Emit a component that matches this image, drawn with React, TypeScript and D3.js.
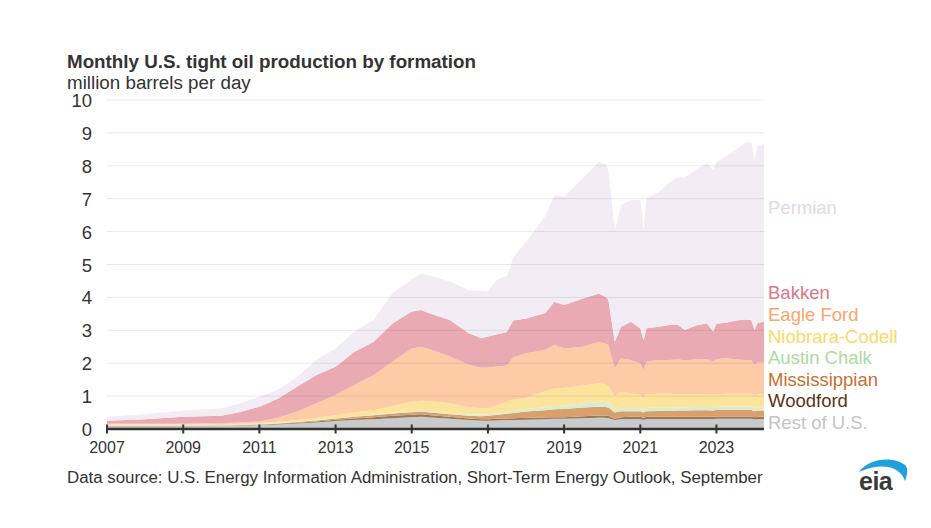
import * as d3 from "d3";

const months = [
  "2007-01", "2008-01", "2009-01", "2010-01", "2010-07", "2011-01", "2011-07", "2012-01",
  "2012-07", "2013-01", "2013-07", "2014-01", "2014-07", "2015-01", "2015-04", "2015-07",
  "2016-01", "2016-07", "2016-11", "2017-01", "2017-04", "2017-07", "2017-09", "2018-01",
  "2018-07", "2018-10", "2019-01", "2019-07", "2019-12", "2020-02", "2020-03", "2020-05",
  "2020-07", "2020-10", "2021-01", "2021-02", "2021-03", "2021-07", "2021-10", "2022-01",
  "2022-03", "2022-07", "2022-10", "2022-12", "2023-01", "2023-04", "2023-07", "2023-10",
  "2023-12", "2024-01", "2024-02", "2024-04",
];

// million barrels per day, bottom layer first
const restOfUS = [
  0.08, 0.08, 0.08, 0.09, 0.10, 0.12, 0.14, 0.17, 0.20, 0.24, 0.27, 0.30, 0.33, 0.36, 0.37, 0.35,
  0.31, 0.27, 0.25, 0.25, 0.26, 0.27, 0.27, 0.28, 0.30, 0.31, 0.31, 0.33, 0.34, 0.34, 0.33, 0.27,
  0.30, 0.30, 0.30, 0.28, 0.30, 0.30, 0.30, 0.30, 0.30, 0.30, 0.30, 0.30, 0.31, 0.31, 0.31, 0.31,
  0.31, 0.29, 0.30, 0.30,
];
const woodford = [
  0.01, 0.01, 0.01, 0.01, 0.01, 0.01, 0.02, 0.02, 0.03, 0.04, 0.05, 0.06, 0.07, 0.07, 0.08, 0.07,
  0.06, 0.05, 0.05, 0.05, 0.05, 0.05, 0.06, 0.06, 0.05, 0.05, 0.05, 0.06, 0.07, 0.07, 0.07, 0.04,
  0.06, 0.07, 0.07, 0.06, 0.07, 0.07, 0.07, 0.07, 0.07, 0.07, 0.07, 0.07, 0.07, 0.07, 0.07, 0.07,
  0.07, 0.07, 0.07, 0.07,
];
const mississippian = [
  0.01, 0.01, 0.01, 0.01, 0.01, 0.01, 0.01, 0.02, 0.03, 0.04, 0.05, 0.06, 0.07, 0.08, 0.08, 0.08,
  0.08, 0.08, 0.09, 0.10, 0.12, 0.14, 0.16, 0.19, 0.22, 0.24, 0.25, 0.26, 0.27, 0.26, 0.25, 0.19,
  0.18, 0.17, 0.17, 0.16, 0.17, 0.18, 0.18, 0.19, 0.19, 0.20, 0.20, 0.19, 0.20, 0.20, 0.20, 0.20,
  0.20, 0.18, 0.19, 0.19,
];
const austinChalk = [
  0.01, 0.01, 0.01, 0.01, 0.01, 0.01, 0.01, 0.01, 0.01, 0.01, 0.01, 0.02, 0.03, 0.03, 0.03, 0.04,
  0.04, 0.05, 0.05, 0.05, 0.05, 0.06, 0.07, 0.08, 0.09, 0.10, 0.10, 0.13, 0.15, 0.15, 0.15, 0.08,
  0.09, 0.10, 0.10, 0.08, 0.10, 0.10, 0.10, 0.10, 0.10, 0.10, 0.10, 0.10, 0.10, 0.10, 0.10, 0.10,
  0.10, 0.09, 0.10, 0.10,
];
const niobrara = [
  0.03, 0.03, 0.03, 0.03, 0.03, 0.03, 0.04, 0.05, 0.07, 0.09, 0.12, 0.14, 0.20, 0.28, 0.30, 0.31,
  0.29, 0.21, 0.19, 0.18, 0.24, 0.31, 0.34, 0.34, 0.49, 0.52, 0.54, 0.54, 0.56, 0.54, 0.50, 0.40,
  0.50, 0.44, 0.39, 0.35, 0.41, 0.43, 0.43, 0.39, 0.39, 0.39, 0.39, 0.38, 0.38, 0.39, 0.39, 0.39,
  0.39, 0.37, 0.39, 0.39,
];
const eagleFord = [
  0.02, 0.02, 0.02, 0.03, 0.04, 0.05, 0.12, 0.26, 0.44, 0.61, 0.84, 1.06, 1.35, 1.63, 1.64, 1.57,
  1.42, 1.29, 1.23, 1.24, 1.18, 1.10, 1.28, 1.35, 1.25, 1.33, 1.20, 1.18, 1.26, 1.24, 1.25, 0.86,
  1.02, 1.02, 0.97, 0.86, 1.00, 1.02, 1.02, 1.07, 1.03, 1.06, 1.06, 1.01, 1.06, 1.08, 1.05, 1.03,
  1.03, 0.95, 0.98, 0.98,
];
const bakken = [
  0.09, 0.14, 0.21, 0.22, 0.32, 0.45, 0.59, 0.76, 0.86, 0.86, 1.01, 1.01, 1.16, 1.12, 1.12, 1.08,
  1.11, 0.96, 0.90, 0.94, 0.98, 1.02, 1.12, 1.06, 1.12, 1.32, 1.32, 1.47, 1.47, 1.42, 1.37, 0.81,
  0.96, 1.16, 1.06, 0.91, 1.01, 1.01, 1.06, 1.04, 0.93, 1.04, 1.09, 0.91, 1.08, 1.08, 1.17, 1.23,
  1.21, 1.06, 1.20, 1.23,
];
const permian = [
  0.12, 0.15, 0.19, 0.23, 0.26, 0.30, 0.27, 0.30, 0.46, 0.56, 0.61, 0.66, 0.92, 0.98, 1.11, 1.16,
  1.17, 1.31, 1.44, 1.38, 1.67, 1.70, 1.90, 2.33, 2.93, 3.24, 3.29, 3.65, 4.00, 4.03, 3.95, 3.40,
  3.70, 3.70, 3.90, 3.35, 3.95, 4.10, 4.31, 4.51, 4.62, 4.76, 4.87, 4.91, 4.92, 5.05, 5.19, 5.37,
  5.41, 5.17, 5.37, 5.42,
];

const seriesNames = [
  "Rest of U.S.", "Woodford", "Mississippian", "Austin Chalk",
  "Niobrara-Codell", "Eagle Ford", "Bakken", "Permian",
];
const seriesValues = [restOfUS, woodford, mississippian, austinChalk, niobrara, eagleFord, bakken, permian];

const yTicks = [0, 1, 2, 3, 4, 5, 6, 7, 8, 9, 10];
const xTickYears = [2007, 2009, 2011, 2013, 2015, 2017, 2019, 2021, 2023];

const fills = ["#c9cacc", "#9a7a5c", "#d9a06b", "#d9ecd1", "#fde49c", "#fdcba6", "#eaaab3", "#f2edf5"];
const labelColors = ["#c3c4c6", "#5c3317", "#c8702e", "#addb9f", "#fdd865", "#fba56c", "#e07584", "#e6d6eb"];

const parseMonth = d3.timeParse("%Y-%m");
const font = "'Liberation Sans', Arial, sans-serif";
const ink = "#333333";

const App = () => {
  const width = 931;
  const height = 528;

  const x = d3
    .scaleTime()
    .domain([new Date(2007, 0, 1), new Date(2024, 3, 1)])
    .range([107, 764]);
  const y = d3.scaleLinear().domain([0, 10]).range([429, 100]);

  // table for d3.stack
  const rows = months.map((m, i) => {
    const r: Record<string, any> = { date: parseMonth(m) };
    seriesNames.forEach((name, s) => (r[name] = seriesValues[s][i]));
    return r;
  });
  const stacked = d3.stack<any>().keys(seriesNames)(rows);

  const area = d3
    .area<any>()
    .x((d) => x(d.data.date))
    .y0((d) => y(d[0]))
    .y1((d) => y(d[1]));

  const [x0, x1] = x.range();
  const labelY = (i: number) => 429 - i * 21.6;

  return (
    <div style={{ position: "absolute", left: 0, top: 0 }}>
      <svg width={width} height={height} style={{ display: "block", fontFamily: font }}>
        <rect width={width} height={height} fill="#ffffff" />

        <text x={67} y={68} fontSize={18.8} fontWeight="bold" fill={ink}>
          Monthly U.S. tight oil production by formation
        </text>
        <text x={67} y={88.5} fontSize={18.8} fill={ink}>
          million barrels per day
        </text>

        {/* stacked areas */}
        <g>
          {stacked.map((layer, i) => (
            <path key={layer.key} d={area(layer) ?? ""} fill={fills[i]} />
          ))}
        </g>

        {/* grid */}
        <g>
          {yTicks.filter((t) => t > 0).map((t) => (
            <line key={t} x1={x0} x2={x1} y1={y(t)} y2={y(t)} stroke="#000" strokeOpacity={0.09} strokeWidth={1} />
          ))}
        </g>

        {/* y labels */}
        <g fontSize={18.5} fill={ink} textAnchor="end">
          {yTicks.map((t) => (
            <text key={t} x={92} y={y(t)} dy="0.38em">
              {t}
            </text>
          ))}
        </g>

        {/* x axis */}
        <line x1={x0} x2={x1} y1={y(0)} y2={y(0)} stroke={ink} strokeWidth={2.5} />
        <g fontSize={16} fill={ink} textAnchor="middle">
          {xTickYears.map((yr) => {
            const px = x(new Date(yr, 0, 1));
            return (
              <g key={yr}>
                <line x1={px} x2={px} y1={y(0) - 4.5} y2={y(0) + 4.5} stroke={ink} strokeWidth={2} />
                <text x={px} y={453}>
                  {yr}
                </text>
              </g>
            );
          })}
        </g>

        {/* direct labels */}
        <g fontSize={18.5}>
          {seriesNames.map((name, i) => (
            <text key={name} x={768} y={i === 7 ? 214 : labelY(i)} fill={labelColors[i]}>
              {name}
            </text>
          ))}
        </g>

        <text x={67} y={483} fontSize={16.85} fill={ink}>
          Data source: U.S. Energy Information Administration, Short-Term Energy Outlook, September
        </text>

        {/* eia logo */}
        <path
          d="M859,472 C868,459 893,455 906,466 C908,470 907,476 905,481 C901,468 884,461 859,472 Z"
          fill="#1ea1dc"
        />
        <text x={859} y={490} fontSize={25} fontWeight="bold" fill="#3a3a3a" letterSpacing={-0.5}>
          eia
        </text>
      </svg>
    </div>
  );
};

export default App;
